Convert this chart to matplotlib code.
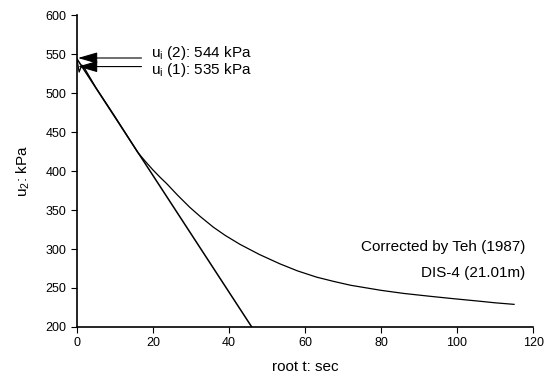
import matplotlib
matplotlib.use('Agg')
import matplotlib.pyplot as plt

plt.rcParams['font.family'] = ['Liberation Sans', 'DejaVu Sans']

# measured (corrected by Teh) dissipation curve
root_t = [0, 0.6, 1.3, 2, 5, 10, 13, 16, 18, 20, 22, 23.6, 26.5, 29.7, 32.5, 35.9,
          39, 42.9, 48, 53.4, 58, 63, 67.5, 72, 80, 86, 93, 99, 106, 110, 115]
u2 = [544, 527, 536, 532, 507, 470, 447, 424, 412.5, 401.5, 391.5, 384, 369, 353.5,
      341.5, 328, 317.5, 306, 293, 281, 272, 264, 258.5, 253.5, 247, 243, 239.3,
      236.3, 233, 231, 229]

# straight line fit through early part
fit_t = [0, 46]
fit_u = [544, 200]

ui_labels = ['u$_\\mathregular{i}$ (2): 544 kPa', 'u$_\\mathregular{i}$ (1): 535 kPa']
ui_values = [545, 534]
ui_text_y = [551, 530]

fig = plt.figure(figsize=(5.49, 3.78), dpi=100)
ax = fig.add_axes([0.140, 0.135, 0.831, 0.825])

ax.plot(root_t, u2, color='black', lw=0.9)
ax.plot(fit_t, fit_u, color='black', lw=1.1)

for lab, val, ty in zip(ui_labels, ui_values, ui_text_y):
    ax.annotate('', xy=(0.3, val), xytext=(17, val),
                arrowprops=dict(arrowstyle='-|>,head_length=1.2,head_width=0.35',
                                color='black', lw=0.8,
                                mutation_scale=10, shrinkA=0, shrinkB=0))
    ax.text(19.4, ty, lab, fontsize=11, va='center', ha='left')

ax.text(117.9, 303, 'Corrected by Teh (1987)', fontsize=11, ha='right', va='center')
ax.text(117.9, 269, 'DIS-4 (21.01m)', fontsize=11, ha='right', va='center')

ax.set_xlim(0, 120)
ax.set_ylim(200, 600)
ax.set_xticks(range(0, 121, 20))
ax.set_yticks(range(200, 601, 50))
ax.tick_params(labelsize=9, direction='out', length=4, width=0.8)
ax.spines['top'].set_visible(False)
ax.spines['right'].set_visible(False)
ax.spines['left'].set_linewidth(1.2)
ax.spines['bottom'].set_linewidth(1.2)

ax.set_xlabel('root t: sec', fontsize=11, labelpad=8)
ax.set_ylabel('u$_\\mathregular{2}$: kPa', fontsize=11, labelpad=10)

fig.savefig('out.png', dpi=100)
